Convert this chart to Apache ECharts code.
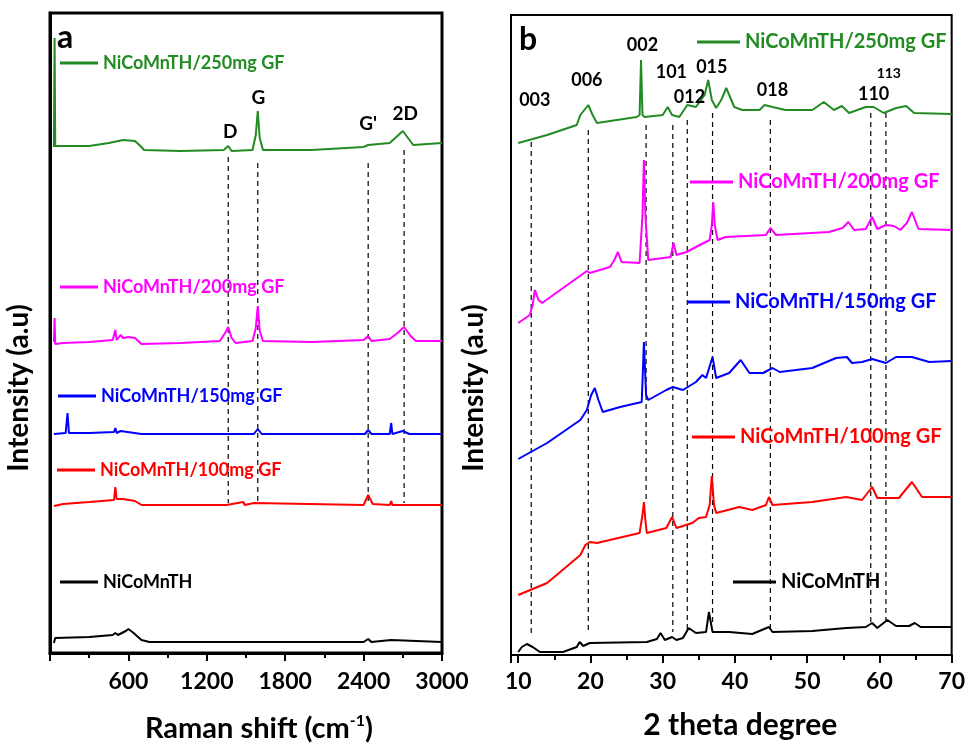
<!DOCTYPE html>
<html><head><meta charset="utf-8">
<script src="https://cdn.jsdelivr.net/npm/echarts@6/dist/echarts.min.js"></script>
<style>html,body{margin:0;padding:0;background:#fff}#c{width:968px;height:750px}</style>
</head><body><div id="c"></div>
<script>
// ---------- Panel a : Raman (x = cm-1, y = intensity a.u.) ----------
const ramanNames = ['NiCoMnTH/250mg GF','NiCoMnTH/200mg GF','NiCoMnTH/150mg GF','NiCoMnTH/100mg GF','NiCoMnTH'];
const seriesColors = ['#228b22','#ff00ff','#0000ff','#ff0000','#000000'];
const raman250 = [[30,506],[35,615],[40,507],[100,507],[300,507],[450,510],[560,513],[650,512],[700,506],[720,503],[1000,502],[1330,503],[1364,507],[1390,502],[1550,503],[1575,518],[1590,542],[1605,515],[1630,503],[2000,503],[2400,506],[2435,508],[2600,510],[2650,516],[2700,522],[2740,515],[2780,508],[3000,510]];
const raman200 = [[30,311],[35,335],[40,309],[100,310],[300,311],[480,313],[500,323],[510,313],[540,318],[560,315],[600,316],[650,315],[700,309],[1000,310],[1300,312],[1340,320],[1364,326],[1390,315],[1420,310],[1550,312],[1575,325],[1590,347],[1605,322],[1630,312],[2000,311],[2400,313],[2435,317],[2460,312],[2600,314],[2660,320],[2710,326],[2760,317],[2800,312],[3000,312]];
const raman150 = [[30,219],[40,221],[120,220],[134,240],[145,220],[300,220],[490,221],[500,225],[510,220],[540,222],[700,219],[1560,219],[1590,224],[1620,219],[2410,219],[2435,223],[2460,219],[2600,219],[2611,230],[2620,219],[2700,222],[2750,219],[3000,219]];
const raman100 = [[30,147],[100,149],[300,151],[490,153],[500,166],[510,154],[560,154],[650,152],[700,148],[1000,148],[1350,148],[1480,151],[1490,148],[1560,150],[1570,148],[2400,148],[2435,158],[2470,149],[2600,148],[2611,152],[2620,148],[3000,148]];
const raman0 = [[30,10],[40,15],[300,16],[480,18],[500,20],[520,18],[580,22],[600,24],[640,20],[700,13],[760,11],[1500,11],[2400,11],[2435,14],[2460,11],[2610,13],[2620,11],[3000,11]];
const ramanTicks = [600,1200,1800,2400,3000];
// dashed guide lines: [x, top, bottom]
const ramanGuides = [[1364,496,150],[1590,490,150],[2435,490,150],[2710,503,150]];
const ramanPeakLabels = [['D',1380,521],['G',1594,555],["G'",2435,529],['2D',2718,539]];

// ---------- Panel b : XRD (x = 2 theta degree) ----------
const xrd250 = [[10,512],[14,520],[18.1,530],[18.6,540],[19.7,550],[20.3,540],[20.9,532],[26.4,538],[26.8,540],[27.0,595],[27.2,540],[27.5,538],[30.0,540],[30.7,548],[31.3,540],[32.3,538],[33.4,550],[34.6,548],[35.8,560],[36.3,575],[36.8,555],[37.4,547],[38.1,555],[38.8,567],[39.9,548],[41,545],[43.4,545],[44.1,550],[45.2,548],[47,545],[50.7,545],[52.3,553],[53.7,545],[54.8,549],[55.8,542],[58.1,548],[59.2,548],[60.6,542],[62.3,547],[63.7,549],[64.8,542],[70,541]];
const xrd200 = [[10,332],[11.6,340],[12.0,350],[12.3,365],[12.8,355],[13.3,352],[19.5,384],[19.9,382],[22.7,388],[23.3,395],[23.8,403],[24.3,393],[24.5,392],[26.8,392],[27.2,440],[27.4,495],[27.6,440],[28.0,395],[31.1,398],[31.5,412],[31.9,400],[32.1,402],[33.3,403],[34.6,408],[36.5,415],[36.8,430],[37.0,453],[37.2,430],[37.6,415],[38.7,418],[44.3,420],[44.9,427],[45.7,420],[53.0,423],[54.9,427],[55.7,433],[56.5,425],[58.1,426],[59.0,438],[59.7,426],[60.9,430],[62.0,429],[62.9,425],[63.8,432],[64.5,443],[65.4,426],[70,425]];
const xrd150 = [[10,196],[14.0,212],[18.6,235],[19.5,245],[20.1,260],[20.6,267],[21.1,255],[21.7,243],[24.1,248],[27.1,253],[27.4,313],[27.7,260],[28.0,255],[30.5,265],[31.4,268],[32.8,265],[34.6,273],[35.5,280],[36.0,277],[36.9,298],[37.4,277],[39.2,282],[40.8,295],[42.0,282],[43.9,282],[45.2,287],[46.2,283],[50.7,287],[54.0,297],[55.5,298],[56.2,292],[57.6,293],[59.0,296],[60.9,292],[62.3,298],[64.5,298],[66.9,293],[70,294]];
const xrd100 = [[10,60],[14.0,72],[18.6,100],[19.3,110],[19.9,113],[20.9,112],[26.8,122],[27.2,140],[27.4,153],[27.6,135],[27.8,122],[30.5,127],[31.3,138],[31.9,127],[34.1,132],[35.0,137],[36.0,138],[36.5,150],[36.8,179],[37.1,150],[37.4,142],[40.6,148],[42.4,145],[44.3,150],[44.7,158],[45.2,150],[50.7,153],[55.4,158],[57.6,155],[59.0,168],[59.7,157],[62.7,157],[64.5,173],[65.9,158],[70,158]];
const xrd0 = [[10,3],[10.5,8],[11.2,11],[12.0,8],[13.0,3],[16.2,3],[18.1,8],[18.5,13],[19.0,9],[19.9,12],[27.8,13],[29.2,16],[29.7,22],[30.3,15],[31.3,18],[31.9,15],[32.8,17],[33.6,27],[34.6,22],[36.0,23],[36.4,43],[36.9,23],[39.2,23],[42.4,21],[44.7,28],[45.2,23],[50.7,24],[55.4,27],[58.1,28],[59.0,32],[59.7,27],[61.1,35],[62.3,29],[64.1,29],[64.9,32],[65.7,28],[70,28]];
const xrdTicks = [10,20,30,40,50,60,70];
const xrdGuides = [[11.8,513,22],[19.7,525,22],[27.7,530,155],[31.4,530,23],[33.4,535,23],[36.9,542,32],[44.9,535,27],[58.8,542,30],[60.9,542,33]];
const xrdPeakLabels = [['003',12.3,555],['006',19.5,575],['002',27.2,610],['101',31.2,583],['012',33.7,558],['015',36.8,588],['018',45.2,565],['110',59.2,561],['113',61.3,582]];

const FONT = 'Lato';
const chart = echarts.init(document.getElementById('c'), null, {renderer:'canvas'});

function traceSeries(data, i, axis){
  return {type:'line', name: ramanNames[i], xAxisIndex:axis, yAxisIndex:axis, data,
    showSymbol:false, symbol:'none', lineStyle:{color:seriesColors[i], width:2}, itemStyle:{color:seriesColors[i]},
    z:3, silent:true};
}
function guideSeries(g, axis){
  return {type:'line', xAxisIndex:axis, yAxisIndex:axis, data:[[g[0],g[1]],[g[0],g[2]]],
    symbol:'none', lineStyle:{color:'#000', width:1.2, type:[5,4]}, z:2, silent:true};
}
function labelSeries(list, axis, size){
  return {type:'scatter', xAxisIndex:axis, yAxisIndex:axis, symbolSize:1, itemStyle:{color:'#fff', opacity:0},
    data: list.map(l=>({value:[l[1],l[2]], name:l[0],
      label:{fontSize: l[0]==='113'?14:size, color:'#000'}})),
    label:{show:true, position:'inside', formatter:p=>p.name, color:'#000', opacity:1, textBorderWidth:0,
      fontWeight:'bold', fontFamily:FONT, fontSize:size},
    z:5, silent:true};
}
function legend(i, left, top, size, w){
  return {show:true, left, top, selectedMode:false, itemWidth:w, itemHeight:12, itemGap:0,
    textStyle:{fontFamily:FONT, fontWeight:'bold', fontSize:size, color:seriesColors[i]},
    data:[{name:ramanNames[i], icon:'path://M0,5L40,5L40,8L0,8Z', itemStyle:{color:seriesColors[i]}}]};
}

const axisBase = {
  axisLine:{show:true, lineStyle:{color:'#000', width:3}},
  splitLine:{show:false}
};

const option = {
  animation:false,
  backgroundColor:'#fff',
  title:[
    {text:'a', left:52, top:17, textStyle:{fontFamily:FONT, fontWeight:'bold', fontSize:32, color:'#000'}},
    {text:'b', left:514, top:19, textStyle:{fontFamily:FONT, fontWeight:'bold', fontSize:32, color:'#000'}}
  ],
  grid:[
    {left:50, top:13, width:392, height:640, show:true, borderColor:'#000', borderWidth:3, backgroundColor:'transparent'},
    {left:511, top:15, width:442, height:640, show:true, borderColor:'#000', borderWidth:2, backgroundColor:'transparent'}
  ],
  xAxis:[
    Object.assign({}, axisBase, {type:'value', gridIndex:0, min:0, max:3000, interval:600,
      axisTick:{show:true, length:8, lineStyle:{width:2, color:'#000'}},
      minorTick:{show:true, splitNumber:2, length:5, lineStyle:{width:2, color:'#000'}},
      axisLabel:{margin:17, fontFamily:FONT, fontWeight:'bold', fontSize:23, color:'#000',
        formatter:v=> ramanTicks.includes(v) ? String(v) : ''},
      name:'Raman shift (cm{sup|-1})', nameLocation:'middle', nameGap:60,
      nameTextStyle:{fontFamily:FONT, fontWeight:'bold', fontSize:29, color:'#000', padding:[0,0,0,26],
        rich:{sup:{fontFamily:FONT, fontWeight:'bold', fontSize:16, color:'#000', padding:[0,0,16,0]}}}}),
    Object.assign({}, axisBase, {type:'value', gridIndex:1, min:9, max:70, splitNumber:6,
      axisLine:{show:true, lineStyle:{color:'#000', width:2}},
      axisTick:{show:true, length:8, lineStyle:{width:2, color:'#000'}},
      minorTick:{show:true, splitNumber:2, length:5, lineStyle:{width:2, color:'#000'}},
      axisLabel:{margin:15, fontFamily:FONT, fontWeight:'bold', fontSize:23, color:'#000',
        formatter:v=> xrdTicks.includes(v) ? String(v) : ''},
      name:'2 theta degree', nameLocation:'middle', nameGap:55,
      nameTextStyle:{fontFamily:FONT, fontWeight:'bold', fontSize:30, color:'#000', padding:[0,0,0,18]}})
  ],
  yAxis:[
    Object.assign({}, axisBase, {type:'value', gridIndex:0, min:0, max:640,
      axisTick:{show:false}, axisLabel:{show:false},
      name:'Intensity (a.u)', nameLocation:'middle', nameGap:17,
      nameTextStyle:{fontFamily:FONT, fontWeight:'bold', fontSize:28, color:'#000', padding:[0,110,0,0]}}),
    Object.assign({}, axisBase, {type:'value', gridIndex:1, min:0, max:640,
      axisLine:{show:true, lineStyle:{color:'#000', width:2}},
      axisTick:{show:false}, axisLabel:{show:false},
      name:'Intensity (a.u)', nameLocation:'middle', nameGap:23,
      nameTextStyle:{fontFamily:FONT, fontWeight:'bold', fontSize:28, color:'#000', padding:[0,106,0,0]}})
  ],
  legend:[
    legend(0, 55, 49, 18, 38), legend(1, 55, 273, 18, 38), legend(2, 53, 382, 18, 38), legend(3, 52, 456, 18, 38), legend(4, 55, 568, 18, 38),
    legend(0, 692, 27, 20, 43), legend(1, 685, 167, 20, 43), legend(2, 682, 287, 20, 43), legend(3, 687, 422, 20, 43), legend(4, 728, 567, 20, 43)
  ],
  series:[
    ...ramanGuides.map(g=>guideSeries(g,0)),
    traceSeries(raman250,0,0), traceSeries(raman200,1,0), traceSeries(raman150,2,0), traceSeries(raman100,3,0), traceSeries(raman0,4,0),
    labelSeries(ramanPeakLabels,0,19),
    ...xrdGuides.map(g=>guideSeries(g,1)),
    traceSeries(xrd250,0,1), traceSeries(xrd200,1,1), traceSeries(xrd150,2,1), traceSeries(xrd100,3,1), traceSeries(xrd0,4,1),
    labelSeries(xrdPeakLabels,1,18)
  ]
};
chart.setOption(option);
</script>
</body></html>
